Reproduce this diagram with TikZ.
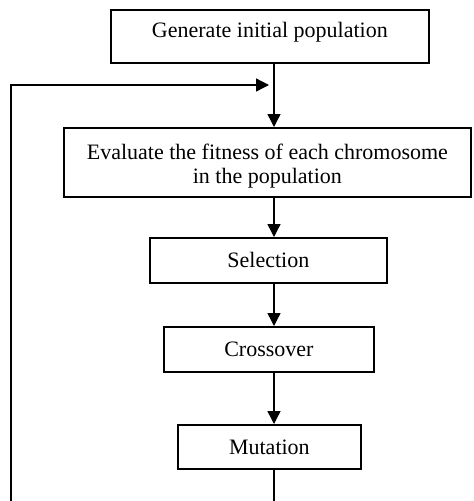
\documentclass[tikz,border=0pt]{standalone}
\usepackage{fontspec}
\setmainfont{Liberation Serif}
\usetikzlibrary{arrows.meta}
\begin{document}
\begin{tikzpicture}[x=1pt,y=-1pt,
  boxstyle/.style={draw, line width=1.8pt, inner sep=0pt, font=\fontsize{22}{24}\selectfont},
  conn/.style={line width=1.4pt},
  arr/.style={conn, -{Triangle[length=13pt,width=13pt]}}]
\useasboundingbox (0,0) rectangle (474,501);
\node[boxstyle, minimum width=318pt, minimum height=53pt, anchor=north west, text height=16pt, text depth=13pt] (gen) at (110,9) {Generate initial population};
\node[boxstyle, minimum width=407pt, minimum height=69pt, anchor=north west, align=center] (eval) at (63,127) {\rule{0pt}{23pt}Evaluate the fitness of each chromosome\\in the population};
\node[boxstyle, minimum width=237pt, minimum height=45pt, anchor=north west] (sel) at (149,237) {Selection};
\node[boxstyle, minimum width=210pt, minimum height=45pt, anchor=north west] (cross) at (163,326) {Crossover};
\node[boxstyle, minimum width=183pt, minimum height=44pt, anchor=north west] (mut) at (177,424) {Mutation};
\coordinate (join) at (274,85);
\coordinate (loopbottom) at (11,501);
\coordinate (mutbottom) at (274,501);
\draw[arr] (gen.south -| join) -- (eval.north -| join);
\draw[arr] (eval.south -| join) -- (sel.north -| join);
\draw[arr] (sel.south -| join) -- (cross.north -| join);
\draw[arr] (cross.south -| join) -- (mut.north -| join);
\draw[conn] (mut.south -| join) -- (mutbottom);
\draw[arr] (loopbottom) -- (11,85) -- ([xshift=-5pt]join);
\end{tikzpicture}
\end{document}
